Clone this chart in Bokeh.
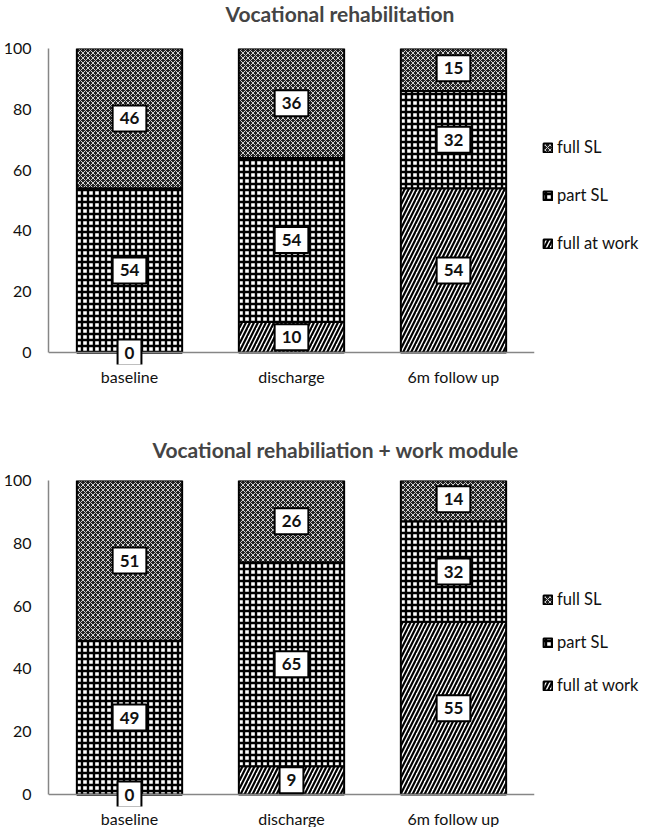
from bokeh.plotting import figure
from bokeh.models import (Label, Legend, LegendItem, Range1d, FactorRange, FixedTicker, Span, Title)
from bokeh.layouts import column
from bokeh.embed import file_html
from bokeh.resources import INLINE

categories = ["baseline", "discharge", "6m follow up"]
y_ticks = [0, 20, 40, 60, 80, 100]
legend_order = ["full SL", "part SL", "full at work"]

title_top = "Vocational rehabilitation"
vr_full_at_work = [0, 10, 54]
vr_part_sl = [54, 54, 32]
vr_full_sl = [46, 36, 15]

title_bottom = "Vocational rehabiliation + work module"
vrw_full_at_work = [0, 9, 55]
vrw_part_sl = [49, 65, 32]
vrw_full_sl = [51, 26, 14]

FONT = "Lato"

styles = {
    "full at work": dict(fill_color="white", hatch_pattern="right_diagonal_line",
                         hatch_color="black", hatch_scale=8, hatch_weight=2.2),
    "part SL": dict(fill_color="white", hatch_pattern="cross",
                    hatch_color="black", hatch_scale=6, hatch_weight=2.4),
    "full SL": dict(fill_color="#222222", hatch_pattern="diagonal_cross",
                    hatch_color="white", hatch_scale=5, hatch_weight=0.8),
}


def make_chart(title, series, px_per_unit, border_top, border_bottom, legend_y,
               legend_spacing, title_offset, title_valign, title_standoff, spacer):
    below_px = 12
    extra = below_px / px_per_unit
    frame_h = round((100 + extra) * px_per_unit)
    p = figure(x_range=FactorRange(*categories), y_range=Range1d(-extra, 100),
               frame_width=486, frame_height=frame_h,
               min_border_left=45, min_border_right=113,
               min_border_top=border_top, min_border_bottom=border_bottom,
               output_backend="svg", toolbar_location=None)
    p.outline_line_color = None
    p.grid.visible = False
    p.background_fill_color = "white"
    p.title.text = title
    p.title.align = "left"
    p.title.offset = title_offset
    p.title.vertical_align = title_valign
    p.title.text_font = FONT
    p.title.text_font_size = "21px"
    p.title.text_font_style = "bold"
    p.title.standoff = title_standoff
    if spacer:
        p.add_layout(Title(text=" ", text_font_size="2px", standoff=spacer), "above")

    for ax in (p.xaxis[0], p.yaxis[0]):
        ax.axis_line_color = "#868686"
        ax.axis_line_width = 1.5
        ax.major_tick_line_color = None
        ax.minor_tick_line_color = None
        ax.major_tick_out = 0
        ax.major_tick_in = 0
        ax.major_label_text_font = FONT
        ax.major_label_text_font_size = "16px"
        ax.major_label_text_color = "#111111"
    p.yaxis[0].ticker = FixedTicker(ticks=y_ticks)
    p.yaxis[0].bounds = (0, 100)
    p.yaxis[0].major_label_standoff = 17
    p.xaxis[0].axis_line_color = None
    p.xaxis[0].major_label_standoff = 2
    p.add_layout(Span(location=0, dimension="width", line_color="#868686", line_width=1.5))

    renderers = {}
    bottoms = [0] * len(categories)
    for name in ["full at work", "part SL", "full SL"]:
        vals = series[name]
        tops = [b + v for b, v in zip(bottoms, vals)]
        r = p.vbar(x=categories, bottom=bottoms, top=tops, width=0.65,
                   line_color="black", line_width=2, **styles[name])
        renderers[name] = r
        bottoms = tops

    bottoms = [0] * len(categories)
    for name in ["full at work", "part SL", "full SL"]:
        vals = series[name]
        for i, (b, v) in enumerate(zip(bottoms, vals)):
            lab = Label(x=i + 0.5, y=b + v / 2, text=str(v),
                        text_align="center", text_baseline="middle",
                        text_font=FONT, text_font_style="bold",
                        text_font_size="17px", text_color="#111111",
                        background_fill_color="white",
                        border_line_color="black", border_line_width=2,
                        padding=(7, 7))
            p.add_layout(lab)
        bottoms = [b + v for b, v in zip(bottoms, vals)]

    legend = Legend(items=[LegendItem(label=n, renderers=[renderers[n]]) for n in legend_order],
                    location=(8, legend_y), orientation="vertical",
                    glyph_width=11, glyph_height=11, label_height=20,
                    label_standoff=4, spacing=legend_spacing,
                    label_text_font=FONT, label_text_font_size="16.5px",
                    label_text_color="#111111",
                    padding=0, margin=0, border_line_color=None,
                    background_fill_alpha=0)
    p.add_layout(legend, "right")
    return p


p1 = make_chart(title_top,
                {"full at work": vr_full_at_work, "part SL": vr_part_sl, "full SL": vr_full_sl},
                3.04, 47, 33, 111, 28, 177, "top", 0, 17)
p2 = make_chart(title_bottom,
                {"full at work": vrw_full_at_work, "part SL": vrw_part_sl, "full SL": vrw_full_sl},
                3.14, 83, 21, 111, 23, 104, "bottom", 38, 0)

layout = column(p1, p2)
open("out.html", "w").write(file_html(layout, INLINE))
